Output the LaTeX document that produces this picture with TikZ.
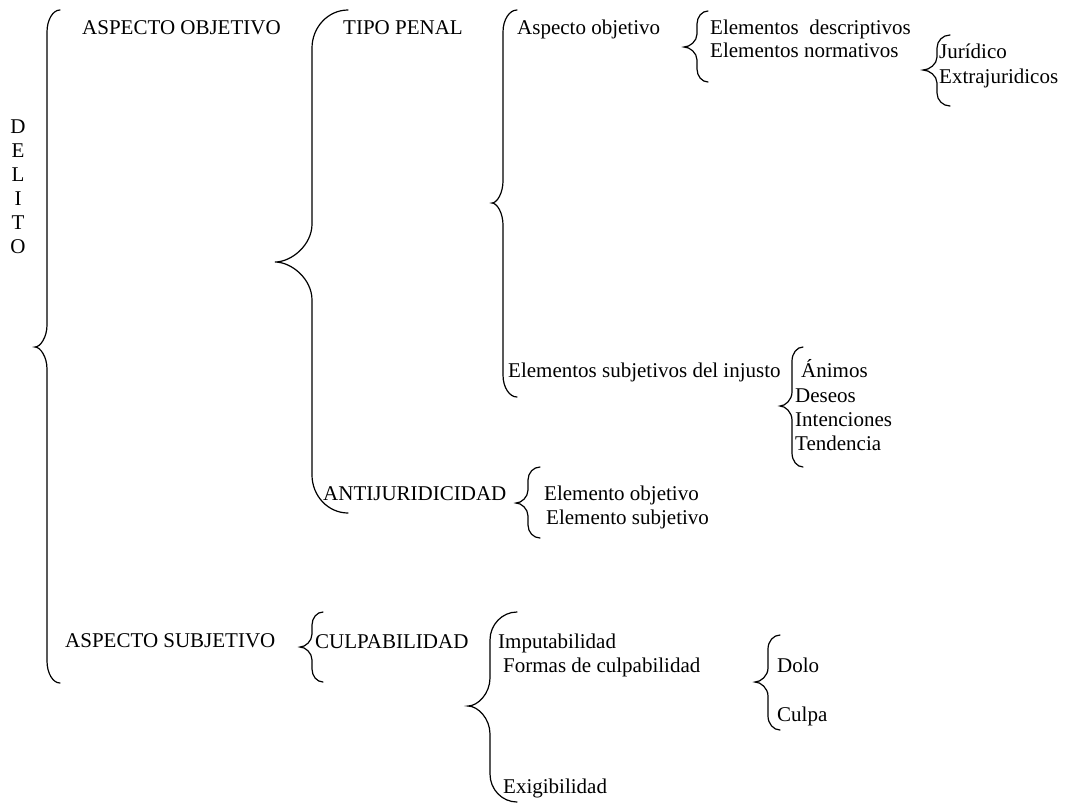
\documentclass[tikz,border=0pt]{standalone}
\usepackage{fontspec}
\setmainfont{Liberation Serif}
\tikzset{
  lbl/.style={anchor=base west, inner sep=0pt, font=\fontsize{21}{24.15}\selectfont},
  bracestroke/.style={line width=1.2pt, line cap=round}
}
% Word-like curly brace: tip x, stem x, middle x, top y, middle y, bottom y, radius
\newcommand{\wordbrace}[7]{
  \draw[bracestroke] (#1,#4) .. controls ({#2+0.45*(#1-#2)},#4) and (#2,{#4+0.45*#7}) .. (#2,{#4+#7})
    -- (#2,{#5-#7}) .. controls (#2,{#5-0.45*#7}) and ({#2-0.55*(#2-#3)},#5) .. (#3,#5)
    .. controls ({#2-0.55*(#2-#3)},#5) and (#2,{#5+0.45*#7}) .. (#2,{#5+#7})
    -- (#2,{#6-#7}) .. controls (#2,{#6-0.45*#7}) and ({#2+0.45*(#1-#2)},#6) .. (#1,#6);
}
\begin{document}
\begin{tikzpicture}[x=1pt,y=-1pt]
  \useasboundingbox (0,0) rectangle (1065,804);
  % DELITO
  \foreach \ch [count=\i] in {D,E,L,I,T,O}
    \node[lbl, anchor=base] (del\i) at (18,{109+24.15*\i}) {\ch};
  \wordbrace{60}{47}{35}{10}{347}{683}{22}
  % first level
  \node[lbl] (aspobj) at (82,34) {ASPECTO OBJETIVO};
  \node[lbl] (aspsubj) at (65,647) {ASPECTO SUBJETIVO};
  % aspecto objetivo
  \wordbrace{348}{312}{275}{10}{262}{513}{38}
  \node[lbl] (tipo) at (343,34) {TIPO PENAL};
  \node[lbl] (antij) at (323,500) {ANTIJURIDICIDAD};
  % tipo penal
  \wordbrace{517}{503}{492}{10}{203}{397}{22}
  \node[lbl] (aobj) at (517,34) {Aspecto objetivo};
  \node[lbl] (esubj) at (508,377) {Elementos subjetivos del injusto};
  \wordbrace{708}{697}{684}{11}{47}{82}{13}
  \node[lbl] (edesc) at (710,34) {Elementos\ \ descriptivos};
  \node[lbl] (enorm) at (710,57) {Elementos normativos};
  \wordbrace{950}{937}{923}{35}{70}{106}{13}
  \node[lbl] (jur) at (939,58) {Jurídico};
  \node[lbl] (extra) at (939,83) {Extrajuridicos};
  \wordbrace{803}{792}{780}{347}{406}{467}{14}
  \node[lbl] (animos) at (801,377) {Ánimos};
  \node[lbl] (deseos) at (795,402) {Deseos};
  \node[lbl] (intenc) at (795,426) {Intenciones};
  \node[lbl] (tend) at (795,450) {Tendencia};
  % antijuridicidad
  \wordbrace{540}{528}{516}{467}{503}{538}{13}
  \node[lbl] (eobj) at (544,500) {Elemento objetivo};
  \node[lbl] (esubj2) at (546,524) {Elemento subjetivo};
  % aspecto subjetivo
  \wordbrace{323}{312}{300}{612}{647}{682}{13}
  \node[lbl] (culp) at (315,648) {CULPABILIDAD};
  \wordbrace{517}{490}{468}{612}{706}{802}{28}
  \node[lbl] (imput) at (498,648) {Imputabilidad};
  \node[lbl] (formas) at (503,672) {Formas de culpabilidad};
  \node[lbl] (exig) at (503,793) {Exigibilidad};
  \wordbrace{780}{768}{755}{635}{682}{730}{14}
  \node[lbl] (dolo) at (777,672) {Dolo};
  \node[lbl] (culpa) at (777,721) {Culpa};
\end{tikzpicture}
\end{document}
